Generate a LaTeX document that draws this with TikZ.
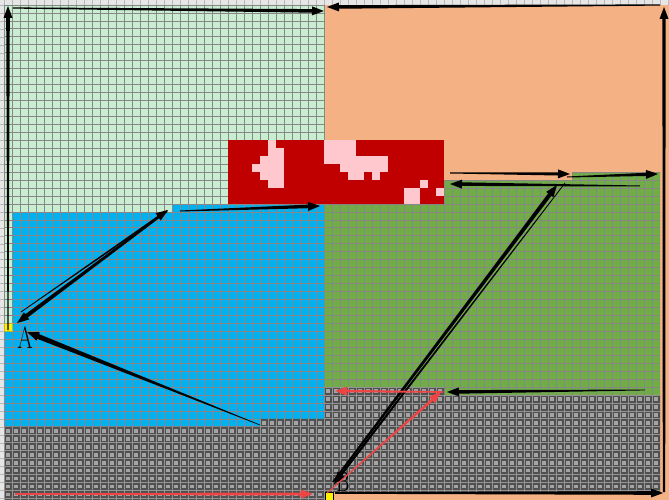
\documentclass[tikz,border=0pt]{standalone}
\usetikzlibrary{calc}
\definecolor{mint}{HTML}{C9EDD0}
\definecolor{peach}{HTML}{F4B183}
\definecolor{sky}{HTML}{00B0F0}
\definecolor{grass}{HTML}{70AD47}
\definecolor{brick}{HTML}{C00000}
\definecolor{blush}{HTML}{FFC7CE}
\definecolor{rock}{HTML}{505050}
\definecolor{stone}{HTML}{A4A4A4}
\definecolor{rule}{HTML}{878787}
\definecolor{ruler}{HTML}{E6E6E6}
\definecolor{route}{HTML}{EE4444}

% grid lines of the map cells (8 x 7.96 px)
\newcommand\cellgrid{%
  \foreach \k in {0,...,83} \draw[cellline] ({4+8*\k},0) -- ({4+8*\k},500);
  \foreach \k in {0,...,62} \draw[cellline] (0,{5+7.96*\k}) -- (669,{5+7.96*\k});}
\newcommand\gridzone[2]{\fill[#1] #2;
  \begin{scope}\clip #2; \cellgrid\end{scope}}
% tapered pen stroke with a filled head
\newcommand\penarrow[5][black]{%
  \coordinate (pe) at ($(#3)!12pt!(#2)$);
  \fill[#1] ($(#2)!#4!90:(#3)$) -- ($(pe)!#5!90:(#3)$) -- ($(pe)!4.5pt!90:(#3)$) -- (#3)
    -- ($(pe)!4.5pt!-90:(#3)$) -- ($(pe)!#5!-90:(#3)$) -- ($(#2)!#4!-90:(#3)$) -- cycle;}

\begin{document}
\begin{tikzpicture}[x=1pt,y=-1pt,
  cellline/.style={draw=rule,line width=.8pt},
  letter/.style={font=\fontsize{31}{33}\selectfont,inner sep=0pt,anchor=base}]
  \useasboundingbox (0,0) rectangle (669,500);
  \clip (0,0) rectangle (669,500);

  % ruler
  \fill[ruler] (0,0) rectangle (669,500);
  \foreach \k in {0,...,83} \draw[gray!55,line width=.5pt] ({4+8*\k},0) -- ({4+8*\k},5);
  \foreach \k in {0,...,62} \draw[gray!55,line width=.5pt] (0,{5+7.96*\k}) -- (4,{5+7.96*\k});

  % zones
  \fill[peach] (325,5) rectangle (669,500);
  \gridzone{mint}{(4,5) -- (325,5) -- (325,204) -- (172,204) -- (172,212) -- (12,212) -- (12,331.4) -- (4,331.4) -- cycle}
  \gridzone{sky}{(12,212) -- (172,212) -- (172,204) -- (325,204) -- (325,418.9) -- (260,418.9) -- (260,426.9) -- (4,426.9) -- (4,331.4) -- (12,331.4) -- cycle}
  \gridzone{grass}{(325,204) -- (444,204) -- (444,180.1) -- (572,180.1) -- (572,172.2) -- (660,172.2) -- (660,395) -- (444,395) -- (444,387.1) -- (325,387.1) -- cycle}

  % red block
  \fill[brick] (228,140.3) rectangle (444,204);
  \foreach \xa/\xb/\ya/\yb in {268/276/140.3/148.3, 268/284/148.3/156.2, 260/284/156.2/164.2,
      252/284/164.2/172.2, 260/284/172.2/180.1, 268/284/180.1/188.1,
      324/356/140.3/156.2, 324/388/156.2/164.2, 340/388/164.2/172.2,
      348/364/172.2/180.1, 372/380/172.2/180.1,
      420/428/180.1/188.1, 404/420/188.1/204, 436/444/188.1/196}
    \fill[blush] (\xa,\ya) rectangle (\xb,\yb);

  % stone floor
  \fill[rock] (4,426.9) -- (260,426.9) -- (260,418.9) -- (325,418.9) -- (325,387.1) -- (444,387.1) -- (444,395)
    -- (660,395) -- (660,492) -- (325,492) -- (325,500) -- (4,500) -- cycle;
  \begin{scope}
    \clip (4,426.9) -- (260,426.9) -- (260,418.9) -- (325,418.9) -- (325,387.1) -- (444,387.1) -- (444,395)
      -- (660,395) -- (660,492) -- (325,492) -- (325,500) -- (4,500) -- cycle;
    \foreach \i in {0,...,82}
      \foreach \j in {48,...,62}
        \fill[stone] ({4+8*\i+2.2},{5+7.96*\j+2.2}) rectangle ++(3.8,3.6);
    \begin{scope}[cellline/.style={draw=gray!85,line width=.9pt}]
      \cellgrid
    \end{scope}
  \end{scope}

  % markers
  \filldraw[fill=yellow,draw=yellow!70!black,line width=.4pt] (4,323.4) rectangle (12,331.4);
  \filldraw[fill=yellow,draw=black,line width=.6pt] (325.3,492.3) rectangle (333,500);
  \node[letter] (labA) at (25,348) {\scalebox{.72}[1]{A}};
  \node[letter,font=\fontsize{28}{30}\selectfont] (labB) at (343,491) {\scalebox{.72}[1]{B}};

  % route points
  \coordinate (leftFoot) at (8,330);   \coordinate (leftHead) at (8,6);
  \coordinate (topFoot) at (13,8);     \coordinate (topHead) at (324,11);
  \coordinate (backFoot) at (660,5);   \coordinate (backHead) at (327,7);
  \coordinate (rightFoot) at (664,492); \coordinate (rightHead) at (664,7);
  \coordinate (baseFoot) at (335,493); \coordinate (baseHead) at (663,493);
  \coordinate (bFoot) at (333,482);    \coordinate (zHead) at (557,185);
  \coordinate (zFoot) at (565,183);    \coordinate (bHead) at (334,484);
  \coordinate (ridgeFoot) at (450,173); \coordinate (ridgeHead) at (570,174);
  \coordinate (ridgeFoot2) at (567,177); \coordinate (ridgeHead2) at (658,174);
  \coordinate (ledgeFoot) at (640,186); \coordinate (ledgeHead) at (450,184);
  \coordinate (stepFoot) at (645,390); \coordinate (stepHead) at (447,392);
  \coordinate (skyFoot) at (180,211);  \coordinate (skyHead) at (320,206);
  \coordinate (aHead) at (17,323);     \coordinate (pTop) at (167,211);
  \coordinate (aFoot) at (21,312);     \coordinate (pHead) at (168,210);
  \coordinate (slopeFoot) at (260,425); \coordinate (slopeHead) at (27,332);
  \coordinate (redFoot) at (443,392);  \coordinate (redHead) at (335,391);
  \coordinate (climbFoot) at (327,493); \coordinate (climbHead) at (441,392);
  \coordinate (floorFoot) at (15,494); \coordinate (floorHead) at (313,494);

  % black routes
  \penarrow{leftFoot}{leftHead}{.6pt}{1.8pt}
  \penarrow{topFoot}{topHead}{.6pt}{1.8pt}
  \penarrow{backFoot}{backHead}{.6pt}{1.8pt}
  \penarrow{rightFoot}{rightHead}{1.2pt}{1.6pt}
  \penarrow{baseFoot}{baseHead}{.8pt}{1.8pt}
  \penarrow{bFoot}{zHead}{1pt}{2pt}
  \penarrow{zFoot}{bHead}{.4pt}{1.2pt}
  \penarrow{ridgeFoot}{ridgeHead}{.5pt}{1.6pt}
  \penarrow{ridgeFoot2}{ridgeHead2}{.5pt}{1.6pt}
  \penarrow{ledgeFoot}{ledgeHead}{.5pt}{1.8pt}
  \penarrow{stepFoot}{stepHead}{.4pt}{1.8pt}
  \penarrow{skyFoot}{skyHead}{.5pt}{1.8pt}
  \penarrow{pTop}{aHead}{1pt}{2pt}
  \penarrow{aFoot}{pHead}{.4pt}{1pt}
  \penarrow{slopeFoot}{slopeHead}{.3pt}{2.5pt}

  % red routes
  \penarrow[route]{redFoot}{redHead}{.8pt}{1.2pt}
  \penarrow[route]{climbFoot}{climbHead}{.5pt}{1.3pt}
  \penarrow[route]{floorFoot}{floorHead}{.8pt}{1.5pt}
\end{tikzpicture}
\end{document}
